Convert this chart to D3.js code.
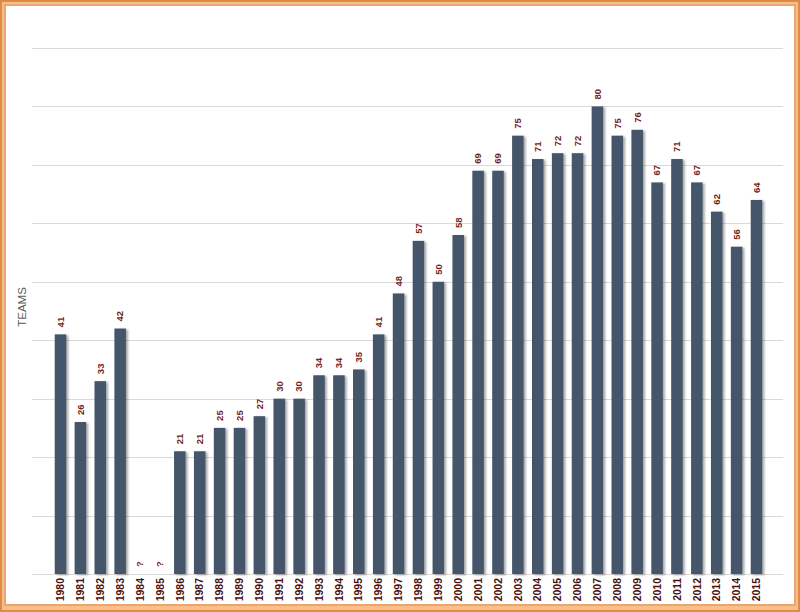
<!DOCTYPE html>
<html><head><meta charset="utf-8">
<script src="https://cdn.jsdelivr.net/npm/d3@7"></script>
<style>body{margin:0;background:#fff}svg{display:block}</style>
</head><body>
<script>
const years = ["1980","1981","1982","1983","1984","1985","1986","1987","1988","1989","1990","1991","1992","1993","1994","1995","1996","1997","1998","1999","2000","2001","2002","2003","2004","2005","2006","2007","2008","2009","2010","2011","2012","2013","2014","2015"];
const teams = [41,26,33,42,null,null,21,21,25,25,27,30,30,34,34,35,41,48,57,50,58,69,69,75,71,72,72,80,75,76,67,71,67,62,56,64];
const yTicks = [0,10,20,30,40,50,60,70,80,90];
const yLabel = "TEAMS";

const W = 800, H = 612;
const svg = d3.select("body").append("svg").attr("width", W).attr("height", H);

const defs = svg.append("defs");
const f = defs.append("filter").attr("id","sh").attr("x","-20%").attr("y","-5%").attr("width","160%").attr("height","110%");
f.append("feDropShadow").attr("dx",2).attr("dy",1).attr("stdDeviation",1.2).attr("flood-color","#000").attr("flood-opacity",0.35);

// frame
svg.append("rect").attr("x",0).attr("y",0).attr("width",W).attr("height",H).attr("fill","#f6c08d");
svg.append("rect").attr("x",6).attr("y",6).attr("width",W-12).attr("height",H-14).attr("fill","#fff");
svg.append("rect").attr("x",1).attr("y",1).attr("width",W-2).attr("height",H-2).attr("fill","none").attr("stroke","#e08a45").attr("stroke-width",2);
svg.append("rect").attr("x",5).attr("y",5).attr("width",W-10).attr("height",H-12).attr("fill","none").attr("stroke","#e59556").attr("stroke-width",1.2);

const x = d3.scaleBand().domain(years).range([50.56, 766.44]).paddingInner(0.42).paddingOuter(0.21);
const y = d3.scaleLinear().domain([0, 90]).range([574, 48]);

// gridlines
svg.append("g").selectAll("line").data(yTicks).join("line")
  .attr("x1", 32).attr("x2", 783)
  .attr("y1", d => Math.round(y(d)) + 0.5).attr("y2", d => Math.round(y(d)) + 0.5)
  .attr("stroke", "#d9d9d9").attr("stroke-width", 1);

const data = years.map((yr, i) => ({yr, v: teams[i]}));

// bars
svg.append("g").attr("filter","url(#sh)").selectAll("rect").data(data.filter(d => d.v != null)).join("rect")
  .attr("x", d => x(d.yr)).attr("width", x.bandwidth())
  .attr("y", d => y(d.v)).attr("height", d => y(0) - y(d.v))
  .attr("fill", "#44546a");

// value labels
svg.append("g").selectAll("text").data(data).join("text")
  .attr("transform", d => `translate(${x(d.yr) + x.bandwidth()/2},${(d.v == null ? y(0) : y(d.v)) - 7}) rotate(-90)`)
  .attr("text-anchor", "start").attr("dy", "0.35em")
  .attr("font-family", "Liberation Sans, Arial, sans-serif").attr("font-size", 9.5)
  .attr("font-weight", "bold")
  .attr("fill", "#742222")
  .text(d => d.v == null ? "?" : d.v);

// x axis labels
const xAxis = d3.axisBottom(x).tickSize(0).tickPadding(0);
const gx = svg.append("g").attr("transform", `translate(0,${y(0)})`).call(xAxis);
gx.select(".domain").remove();
gx.selectAll("text")
  .attr("transform", "rotate(-90)")
  .attr("x", -4).attr("y", 0).attr("dy", "0.35em")
  .attr("text-anchor", "end")
  .attr("font-family", "Liberation Sans, Arial, sans-serif").attr("font-size", 10.5).attr("font-weight", "bold")
  .attr("fill", "#4a1010");

// y label
svg.append("text").attr("transform", "translate(26,307) rotate(-90)")
  .attr("text-anchor", "middle").attr("font-family", "Liberation Sans, Arial, sans-serif")
  .attr("font-size", 11.5).attr("fill", "#595959").text(yLabel);
</script>
</body></html>
